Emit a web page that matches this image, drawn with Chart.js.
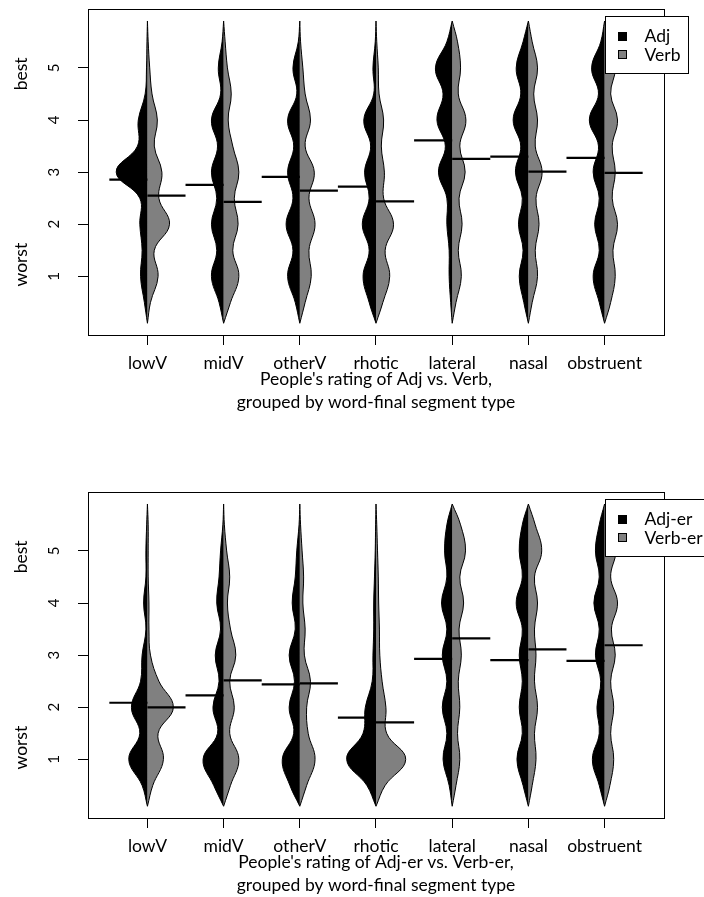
<!DOCTYPE html>
<html><head><meta charset="utf-8">
<script src="https://cdn.jsdelivr.net/npm/chart.js@4"></script>
<style>
html,body{margin:0;padding:0;background:#fff;overflow:hidden;width:704px;height:897px;}
canvas{position:absolute;left:0;}
#c1{top:0}
#c2{top:483px}
</style></head><body>
<canvas id="c1" width="704" height="448"></canvas>
<canvas id="c2" width="704" height="448"></canvas>
<script>
// ---------- data ----------
const categories = ['lowV', 'midV', 'otherV', 'rhotic', 'lateral', 'nasal', 'obstruent'];
const yTicks = [1, 2, 3, 4, 5];
// rating values at which the violin half-widths were read
const ratingGrid = [0.1, 0.5, 1, 1.5, 2, 2.5, 3, 3.5, 4, 4.5, 5, 5.5, 5.9];

// Panel 1: half-widths (x units) of each violin half, one row per category
const adjWidth = [
  [0, 0.04, 0.09, 0.07, 0.10, 0.10, 0.41, 0.13, 0.12, 0.03, 0.012, 0.006, 0],
  [0, 0.06, 0.16, 0.09, 0.16, 0.09, 0.16, 0.08, 0.16, 0.04, 0.07, 0.02, 0],
  [0, 0.06, 0.16, 0.09, 0.18, 0.09, 0.16, 0.08, 0.16, 0.04, 0.09, 0.02, 0],
  [0, 0.09, 0.17, 0.09, 0.18, 0.09, 0.15, 0.07, 0.16, 0.03, 0.04, 0.01, 0],
  [0, 0.02, 0.04, 0.04, 0.07, 0.07, 0.18, 0.09, 0.20, 0.12, 0.22, 0.07, 0],
  [0, 0.06, 0.12, 0.07, 0.13, 0.08, 0.17, 0.10, 0.20, 0.10, 0.16, 0.07, 0],
  [0, 0.07, 0.15, 0.07, 0.13, 0.07, 0.15, 0.08, 0.20, 0.08, 0.17, 0.05, 0]
];
const verbWidth = [
  [0, 0.04, 0.14, 0.09, 0.29, 0.15, 0.19, 0.09, 0.13, 0.06, 0.03, 0.01, 0],
  [0, 0.09, 0.20, 0.12, 0.19, 0.14, 0.20, 0.12, 0.06, 0.10, 0.05, 0.02, 0],
  [0, 0.07, 0.15, 0.12, 0.20, 0.12, 0.19, 0.07, 0.14, 0.07, 0.04, 0.01, 0],
  [0, 0.09, 0.18, 0.12, 0.23, 0.10, 0.11, 0.07, 0.10, 0.04, 0.03, 0.01, 0],
  [0, 0.05, 0.12, 0.08, 0.13, 0.09, 0.17, 0.10, 0.18, 0.08, 0.11, 0.07, 0],
  [0, 0.05, 0.12, 0.09, 0.14, 0.10, 0.18, 0.09, 0.12, 0.07, 0.12, 0.05, 0],
  [0, 0.08, 0.14, 0.11, 0.17, 0.10, 0.14, 0.10, 0.17, 0.08, 0.14, 0.06, 0]
];
const adjMean  = [2.856, 2.754, 2.908, 2.722, 3.61, 3.297, 3.272];
const verbMean = [2.549, 2.428, 2.645, 2.44, 3.253, 3.01, 2.985];

// Panel 2
const adjErWidth = [
  [0, 0.07, 0.245, 0.10, 0.21, 0.09, 0.07, 0.02, 0.05, 0.02, 0.02, 0.01, 0],
  [0, 0.13, 0.27, 0.08, 0.14, 0.06, 0.11, 0.04, 0.09, 0.06, 0.04, 0.01, 0],
  [0, 0.13, 0.23, 0.08, 0.14, 0.07, 0.14, 0.06, 0.10, 0.06, 0.04, 0.01, 0],
  [0, 0.12, 0.385, 0.17, 0.14, 0.05, 0.04, 0.03, 0.03, 0.02, 0.01, 0.005, 0],
  [0, 0.04, 0.12, 0.07, 0.13, 0.07, 0.13, 0.07, 0.14, 0.07, 0.10, 0.07, 0],
  [0, 0.07, 0.15, 0.08, 0.12, 0.08, 0.12, 0.08, 0.16, 0.08, 0.12, 0.08, 0],
  [0, 0.07, 0.16, 0.07, 0.10, 0.05, 0.12, 0.07, 0.14, 0.07, 0.12, 0.07, 0]
];
const verbErWidth = [
  [0, 0.07, 0.21, 0.14, 0.34, 0.15, 0.04, 0.02, 0.02, 0.01, 0.01, 0.01, 0],
  [0, 0.09, 0.20, 0.08, 0.14, 0.08, 0.16, 0.09, 0.05, 0.08, 0.04, 0.01, 0],
  [0, 0.09, 0.20, 0.11, 0.09, 0.14, 0.06, 0.07, 0.04, 0.05, 0.03, 0.01, 0],
  [0, 0.12, 0.39, 0.14, 0.13, 0.08, 0.05, 0.045, 0.035, 0.03, 0.02, 0.01, 0],
  [0, 0.05, 0.10, 0.07, 0.10, 0.08, 0.12, 0.09, 0.15, 0.10, 0.175, 0.11, 0],
  [0, 0.05, 0.10, 0.08, 0.12, 0.08, 0.10, 0.08, 0.12, 0.08, 0.175, 0.09, 0],
  [0, 0.07, 0.12, 0.08, 0.12, 0.08, 0.14, 0.09, 0.17, 0.08, 0.15, 0.10, 0]
];
const adjErMean  = [2.086, 2.228, 2.44, 1.80, 2.93, 2.906, 2.89];
const verbErMean = [1.998, 2.516, 2.459, 1.71, 3.32, 3.11, 3.19];

const sideLabels = ['best', 'worst'];
const sideLabelAt = [4.885, 1.225];
const legendAnchor = [7, 6];

// ---------- drawing ----------
const FONT = 'Lato';
const FS = 17.5;
const MEAN_HALF = 0.5;

const framePlugin = {
  id: 'frame',
  afterDatasetsDraw(chart) {
    const {ctx, chartArea: a} = chart;
    ctx.save();
    ctx.strokeStyle = '#000';
    ctx.lineWidth = 1;
    ctx.strokeRect(Math.round(a.left) + 0.5, Math.round(a.top) + 0.5,
                   Math.round(a.right - a.left), Math.round(a.bottom - a.top));
    ctx.restore();
  },
  afterDraw(chart, args, opts) {
    const {ctx} = chart;
    const xs = chart.scales.x, ys = chart.scales.y;
    ctx.save();
    ctx.font = FS + 'px ' + FONT;
    ctx.fillStyle = '#000';
    sideLabels.forEach((t, k) => {
      ctx.save();
      ctx.translate(21, ys.getPixelForValue(sideLabelAt[k]));
      ctx.rotate(-Math.PI / 2);
      ctx.textAlign = 'center';
      ctx.textBaseline = 'middle';
      ctx.fillText(t, 0, 0);
      ctx.restore();
    });
    const bx = Math.round(xs.getPixelForValue(legendAnchor[0]));
    const by = Math.round(ys.getPixelForValue(legendAnchor[1]));
    const tw = Math.max(...opts.labels.map(l => ctx.measureText(l).width));
    const w = Math.round(39.5 + tw + 8), h = 57;
    ctx.fillStyle = '#fff';
    ctx.fillRect(bx, by, w, h);
    ctx.strokeStyle = '#000';
    ctx.lineWidth = 1;
    ctx.strokeRect(bx + 0.5, by + 0.5, w, h);
    opts.labels.forEach((l, k) => {
      const cy = by + 19.5 + k * 18.5;
      ctx.fillStyle = opts.colors[k];
      ctx.fillRect(bx + 13.5, Math.round(cy - 4), 8, 8);
      ctx.strokeRect(bx + 13.5, Math.round(cy - 4) + 0.5, 8, 8);
      ctx.fillStyle = '#000';
      ctx.textAlign = 'left';
      ctx.textBaseline = 'middle';
      ctx.fillText(l, bx + 39.5, cy + 1);
    });
    ctx.restore();
  }
};

function makeChart(id, series, titleLines) {
  const datasets = [];
  series.forEach(s => {
    categories.forEach((cat, i) => {
      const c = i + 1;
      datasets.push({
        label: s.label + ' ' + cat,
        data: ratingGrid.map((r, j) => ({x: c + s.side * s.widths[i][j], y: r})),
        borderColor: '#000', borderWidth: 1, backgroundColor: s.color,
        fill: 'shape', tension: 0.4, pointRadius: 0, pointHoverRadius: 0, order: 2
      });
      datasets.push({
        label: s.label + ' mean ' + cat,
        data: [{x: c, y: s.means[i]}, {x: c + s.side * MEAN_HALF, y: s.means[i]}],
        borderColor: '#000', borderWidth: 2.2, fill: false,
        pointRadius: 0, pointHoverRadius: 0, order: 1
      });
    });
  });

  return new Chart(document.getElementById(id), {
    type: 'line',
    data: {datasets},
    plugins: [framePlugin],
    options: {
      responsive: false,
      devicePixelRatio: 1,
      animation: false,
      events: [],
      layout: {padding: {left: 0, right: 40, top: 9, bottom: 0}},
      plugins: {
        legend: {display: false},
        tooltip: {enabled: false},
        frame: {labels: series.map(s => s.label), colors: series.map(s => s.color)}
      },
      scales: {
        x: {
          type: 'linear', min: 0.22, max: 7.78,
          afterBuildTicks: sc => { sc.ticks = categories.map((_, i) => ({value: i + 1})); },
          afterFit: sc => { sc.height = 113; sc.paddingLeft = 0; sc.paddingRight = 0; },
          ticks: {
            callback: (v, i) => categories[i],
            autoSkip: false, minRotation: 0, maxRotation: 0,
            padding: 8, color: '#000', font: {family: FONT, size: FS}
          },
          grid: {drawOnChartArea: false, drawTicks: true, tickLength: 10, color: '#000', tickColor: '#000', lineWidth: 1},
          border: {display: false},
          title: {
            display: true, text: titleLines, color: '#000',
            font: {family: FONT, size: FS, lineHeight: 1.31},
            padding: {top: 0, bottom: 34}
          }
        },
        y: {
          type: 'linear', min: -0.125, max: 6.13,
          afterBuildTicks: sc => { sc.ticks = yTicks.map(v => ({value: v})); },
          afterFit: sc => { sc.width = 88; sc.paddingTop = 0; sc.paddingBottom = 0; },
          ticks: {
            minRotation: 90, maxRotation: 90, crossAlign: 'center',
            padding: 19, color: '#000', font: {family: FONT, size: 15}
          },
          grid: {drawOnChartArea: false, drawTicks: true, tickLength: 10, color: '#000', tickColor: '#000', lineWidth: 1},
          border: {display: false}
        }
      }
    }
  });
}

makeChart('c1', [
  {label: 'Adj', widths: adjWidth, means: adjMean, color: '#000000', side: -1},
  {label: 'Verb', widths: verbWidth, means: verbMean, color: '#808080', side: 1}
], ["People's rating of Adj vs. Verb,", 'grouped by word-final segment type']);

makeChart('c2', [
  {label: 'Adj-er', widths: adjErWidth, means: adjErMean, color: '#000000', side: -1},
  {label: 'Verb-er', widths: verbErWidth, means: verbErMean, color: '#808080', side: 1}
], ["People's rating of Adj-er vs. Verb-er,", 'grouped by word-final segment type']);
</script>
</body></html>
